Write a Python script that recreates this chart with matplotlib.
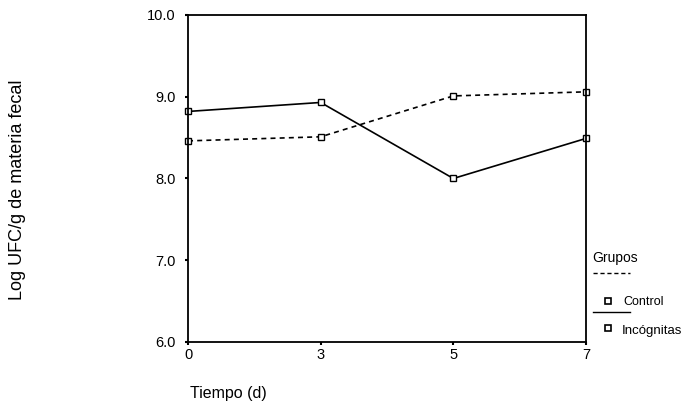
import matplotlib.pyplot as plt
from matplotlib.lines import Line2D

plt.rcParams['font.family'] = ['Liberation Sans', 'DejaVu Sans']

# Datos
tiempo = ['0', '3', '5', '7']
control = [8.46, 8.51, 9.01, 9.06]
incognitas = [8.82, 8.93, 8.00, 8.49]
y_ticks = [6.0, 7.0, 8.0, 9.0, 10.0]

fig = plt.figure(figsize=(6.87, 4.04), dpi=100)
ax = fig.add_axes([0.2737, 0.1535, 0.5793, 0.8094])

x = range(len(tiempo))
ax.plot(x, control, color='black', linestyle=(0, (3, 2.5)), linewidth=1.2,
        marker='s', markersize=5, markerfacecolor='white', markeredgewidth=1.0,
        clip_on=False)
ax.plot(x, incognitas, color='black', linestyle='-', linewidth=1.2,
        marker='s', markersize=5, markerfacecolor='white', markeredgewidth=1.0,
        clip_on=False)

ax.set_xlim(0, len(tiempo) - 1)
ax.set_ylim(6.0, 10.0)
ax.set_xticks(list(x))
ax.set_xticklabels(tiempo)
ax.set_yticks(y_ticks)
ax.set_yticklabels([f'{v:.1f}' for v in y_ticks])
ax.tick_params(direction='out', length=2, width=1.5, labelsize=10.5)
ax.tick_params(axis='y', pad=7)
ax.tick_params(axis='x', pad=2)
for sp in ax.spines.values():
    sp.set_linewidth(1.3)

fig.text(0.026, 0.53, 'Log UFC/g de materia fecal', rotation=90,
         ha='center', va='center', fontsize=13)
fig.text(0.276, 0.027, 'Tiempo (d)', ha='left', va='center', fontsize=11.5)

# Leyenda (fuera del área, a la derecha)
fig.text(0.862, 0.361, 'Grupos', ha='left', va='center', fontsize=10)
fig.add_artist(Line2D([0.863, 0.917], [0.324, 0.324], color='black',
                      linestyle=(0, (3, 2)), linewidth=1.0))
fig.add_artist(Line2D([0.885], [0.255], marker='s', markersize=4.5,
                      markerfacecolor='white', markeredgecolor='black',
                      markeredgewidth=1.2, linestyle='none'))
fig.text(0.907, 0.252, 'Control', ha='left', va='center', fontsize=9)
fig.add_artist(Line2D([0.863, 0.917], [0.228, 0.228], color='black',
                      linestyle='-', linewidth=1.0))
fig.add_artist(Line2D([0.885], [0.188], marker='s', markersize=4.5,
                      markerfacecolor='white', markeredgecolor='black',
                      markeredgewidth=1.2, linestyle='none'))
fig.text(0.905, 0.181, 'Incógnitas', ha='left', va='center', fontsize=9.5)

fig.savefig('out.png', dpi=100)
